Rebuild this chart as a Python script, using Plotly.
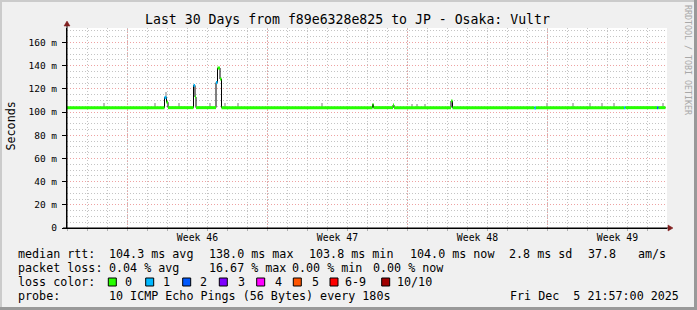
import plotly.graph_objects as go

# ---------------- data ----------------
# median RTT step series: start day of each step (days since graph start), value in ms, lost pings
sample_day = [0.0, 4.875, 4.975, 5.05, 6.325, 6.4, 6.45, 7.45, 7.525, 7.65, 7.725,
              15.275, 15.325, 16.3, 16.35, 19.2, 19.275, 23.375, 23.45, 27.85, 27.915,
              29.5, 29.565]
median_ms = [103.8, 112.5, 108.5, 103.8, 123.0, 113.0, 103.8, 125.5, 138.0, 128.5, 103.8,
             106.5, 103.8, 106.0, 103.8, 109.5, 103.8, 103.5, 103.8, 103.8, 103.8,
             103.8, 103.8]
loss_count = [0, 1, 0, 0, 1, 0, 0, 1, 0, 0, 0,
              0, 0, 0, 0, 0, 0, 1, 0, 1, 0,
              2, 0]
end_day = 29.925

# "smoke" (spread of the individual pings above the median)
smoke_day = [1.865, 4.415, 4.95, 5.615, 7.15, 7.9, 8.565, 12.735, 17.235, 17.515, 17.9,
             23.985, 25.315, 26.15, 26.735, 27.365, 29.815]
smoke_low_ms = [103.8, 103.8, 112.0, 103.8, 103.8, 103.8, 103.8, 103.8, 103.8, 103.8, 103.8,
                103.8, 103.8, 103.8, 103.8, 103.8, 103.8]
smoke_high_ms = [107.5, 107.5, 117.0, 107.5, 107.5, 107.5, 107.5, 107.5, 107.0, 107.0, 107.0,
                 107.5, 107.5, 108.0, 107.5, 107.5, 107.5]

week_start_day = [3.025, 10.025, 17.025, 24.025]
week_labels = ["Week 46", "Week 47", "Week 48", "Week 49"]

y_tick_vals = [0, 20, 40, 60, 80, 100, 120, 140, 160]
y_tick_text = ["0", "20 m", "40 m", "60 m", "80 m", "100 m", "120 m", "140 m", "160 m"]

loss_names = ["0", "1", "2", "3", "4", "5", "6-9", "10/10"]
loss_colors = ["#26ff00", "#00b8ff", "#0059ff", "#7e00ff", "#ff00ff", "#ff5500", "#ff0000", "#a10000"]

title_text = "Last 30 Days from f89e6328e825 to JP - Osaka: Vultr"
legend_rows = [
    [("median rtt:", 16), ("104.3 ms avg", 107.3), ("138.0 ms max", 207.3),
     ("103.8 ms min", 306.7), ("104.0 ms now", 407.5), ("2.8 ms sd", 507.0),
     ("37.8", 586.0), ("am/s", 635.7)],
    [("packet loss:", 16), ("0.04 % avg", 107.3), ("16.67 % max", 207.3),
     ("0.00 % min", 289.5), ("0.00 % now", 370.7)],
    [("loss color:", 16)],
    [("probe:", 16), ("10 ICMP Echo Pings (56 Bytes) every 180s", 107.3)],
]
timestamp = "Fri Dec  5 21:57:00 2025"

# ---------------- layout constants ----------------
W, H = 697, 310
L, R, T, B = 67, 30, 28, 82
PW, PH = W - L - R, H - T - B
FONT = "DejaVu Sans Mono"


def px(xp):
    return (xp - L) / PW


def py(yp):
    return (T + PH - yp) / PH


fig = go.Figure()

# smoke
fig.add_trace(go.Bar(x=smoke_day, y=[h - l for h, l in zip(smoke_high_ms, smoke_low_ms)],
                     base=smoke_low_ms, width=0.05, marker=dict(color="#bdbdbd", line=dict(width=0)),
                     hoverinfo="skip", showlegend=False))

# thin dark median step line
xs = sample_day + [end_day]
ys = median_ms + [median_ms[-1]]
fig.add_trace(go.Scatter(x=xs, y=ys, mode="lines", line=dict(color="#000000", width=1, shape="hv"),
                         hoverinfo="skip", showlegend=False))

# loss-coloured thick segments
bounds = sample_day + [end_day]
for ci, col in enumerate(loss_colors):
    sx, sy = [], []
    for i, v in enumerate(median_ms):
        lc = loss_count[i]
        cls = lc if lc <= 5 else (6 if lc < 10 else 7)
        if cls == ci:
            sx += [bounds[i], bounds[i + 1], None]
            sy += [v, v, None]
    if sx:
        fig.add_trace(go.Scatter(x=sx, y=sy, mode="lines", line=dict(color=col, width=3),
                                 hoverinfo="skip", showlegend=False))

GRID = "#c4c4c4"
MGRID = "#eea2a2"
DOT = "1px,2px"

fig.update_layout(
    width=W, height=H, margin=dict(l=L, r=R, t=T, b=B, pad=0),
    paper_bgcolor="#f0f0f0", plot_bgcolor="#ffffff",
    showlegend=False, bargap=0,
    font=dict(family=FONT, color="#000000"),
    xaxis=dict(range=[0, 30], showgrid=False, zeroline=False,
               tickvals=[d + 3.5 for d in week_start_day], ticktext=week_labels,
               ticks="", tickfont=dict(size=9.8, family=FONT),
               showline=True, linecolor="#000000", linewidth=1,
               minor=dict(tick0=0.025, dtick=1, showgrid=True, gridcolor=GRID, griddash=DOT,
                          ticks="outside", ticklen=2, tickcolor="#b0b0b0")),
    yaxis=dict(range=[0, 172.5], tickvals=y_tick_vals, ticktext=y_tick_text,
               showgrid=True, gridcolor=MGRID, griddash=DOT, zeroline=False,
               ticks="outside", ticklen=4, tickcolor="#000000",
               tickfont=dict(size=9.5, family=FONT), ticklabelstandoff=3,
               showline=True, linecolor="#000000", linewidth=1,
               minor=dict(dtick=5, showgrid=True, gridcolor=GRID, griddash=DOT)),
)

shapes = []
# red week grid lines
for d in week_start_day:
    shapes.append(dict(type="line", xref="x", yref="paper", x0=d, x1=d, y0=0, y1=1,
                       layer="between", line=dict(color=MGRID, width=1, dash=DOT)))
# axis extensions and arrows
shapes.append(dict(type="line", xref="paper", yref="paper", x0=px(67), x1=px(67), y0=py(228), y1=py(24),
                   line=dict(color="#000000", width=1)))
shapes.append(dict(type="path", xref="paper", yref="paper",
                   path=f"M {px(64)},{py(26)} L {px(70)},{py(26)} L {px(67)},{py(21)} Z",
                   fillcolor="#801f1f", line=dict(color="#801f1f", width=0.5)))
shapes.append(dict(type="line", xref="paper", yref="paper", x0=px(63), x1=px(669), y0=py(228), y1=py(228),
                   line=dict(color="#000000", width=1)))
shapes.append(dict(type="path", xref="paper", yref="paper",
                   path=f"M {px(668)},{py(225)} L {px(668)},{py(231)} L {px(673)},{py(228)} Z",
                   fillcolor="#801f1f", line=dict(color="#801f1f", width=0.5)))
# frame shading
shapes.append(dict(type="rect", xref="paper", yref="paper", x0=px(0), x1=px(W), y0=py(0), y1=py(2),
                   fillcolor="#cbcbcb", line=dict(width=0)))
shapes.append(dict(type="rect", xref="paper", yref="paper", x0=px(0), x1=px(2), y0=py(0), y1=py(H),
                   fillcolor="#cbcbcb", line=dict(width=0)))
shapes.append(dict(type="rect", xref="paper", yref="paper", x0=px(W - 3), x1=px(W), y0=py(0), y1=py(H),
                   fillcolor="#999999", line=dict(width=0)))
shapes.append(dict(type="rect", xref="paper", yref="paper", x0=px(0), x1=px(W), y0=py(H - 3), y1=py(H),
                   fillcolor="#999999", line=dict(width=0)))

# loss colour legend boxes
box_x = [108.3, 145.7, 182.7, 219.3, 256.7, 293.3, 330.0, 381.7]
lab_x = [123.3, 161.0, 198.3, 236.0, 273.0, 310.0, 343.3, 395.0]
annotations = []
for bx, lx, name, col in zip(box_x, lab_x, loss_names, loss_colors):
    shapes.append(dict(type="rect", xref="paper", yref="paper", x0=px(bx), x1=px(bx + 8),
                       y0=py(278), y1=py(286), fillcolor=col, line=dict(color="#000000", width=1)))
    annotations.append(dict(x=px(lx), y=py(282), xref="paper", yref="paper", text=name,
                            showarrow=False, xanchor="left", yanchor="middle",
                            font=dict(size=11.7, family=FONT, color="#000000")))

row_y = [254, 268, 282, 296]
for row, yy in zip(legend_rows, row_y):
    for txt, xx in row:
        annotations.append(dict(x=px(xx), y=py(yy), xref="paper", yref="paper",
                                text=txt.replace(" ", "\u00a0"), showarrow=False,
                                xanchor="left", yanchor="middle",
                                font=dict(size=11.7, family=FONT, color="#000000")))
annotations.append(dict(x=px(681), y=py(296), xref="paper", yref="paper",
                        text=timestamp.replace(" ", "\u00a0"), showarrow=False,
                        xanchor="right", yanchor="middle",
                        font=dict(size=11.7, family=FONT, color="#000000")))
# title
annotations.append(dict(x=px(347), y=py(19), xref="paper", yref="paper", text=title_text,
                        showarrow=False, xanchor="center", yanchor="middle",
                        font=dict(size=13.2, family=FONT, color="#000000")))
# y-axis title
annotations.append(dict(x=px(10.5), y=py(126), xref="paper", yref="paper", text="Seconds",
                        showarrow=False, textangle=-90, xanchor="center", yanchor="middle",
                        font=dict(size=11.7, family=FONT, color="#000000")))
# watermark
annotations.append(dict(x=px(688), y=py(60), xref="paper", yref="paper", text="RRDTOOL / TOBI OETIKER",
                        showarrow=False, textangle=90, xanchor="center", yanchor="middle",
                        font=dict(size=8.3, family=FONT, color="#a8a8a8")))

fig.update_layout(shapes=shapes, annotations=annotations)
fig.write_html("out.html")
